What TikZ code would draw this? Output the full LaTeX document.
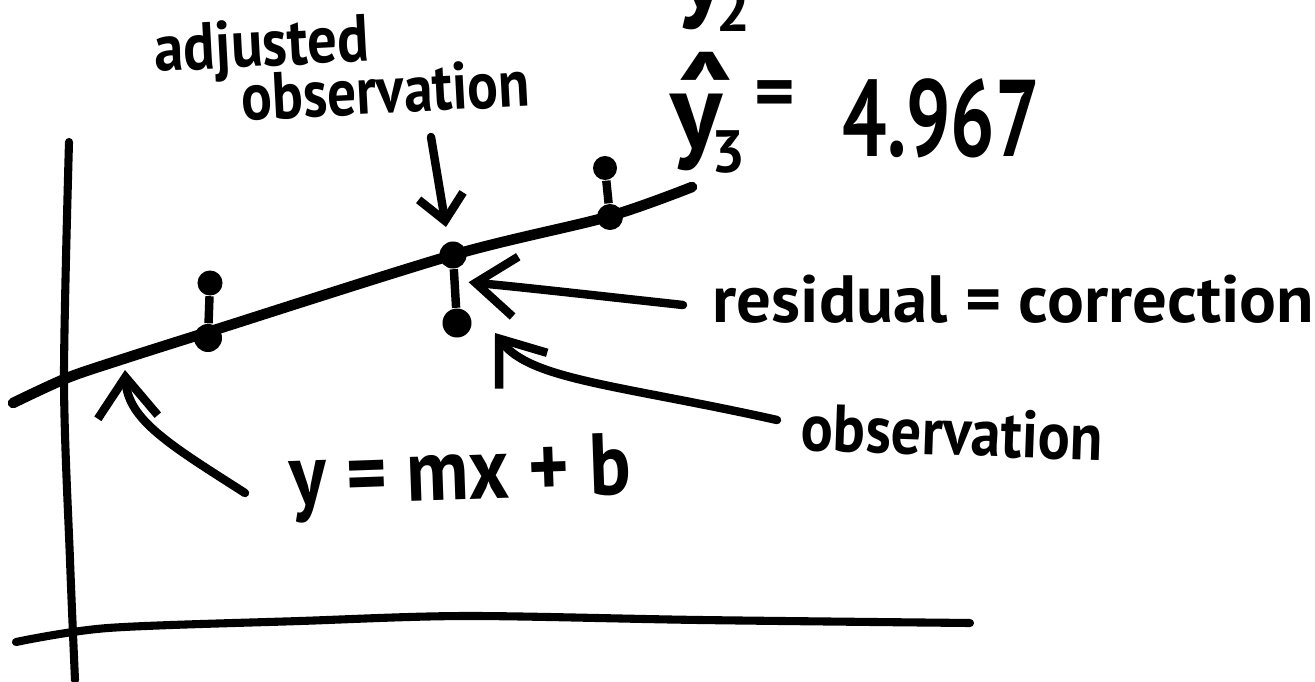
\documentclass[tikz,border=0pt]{standalone}
\usepackage{fontspec}
\newfontfamily\handfont{PT Sans}
\usetikzlibrary{arrows.meta,calc}

\newcommand\yhatsub[1]{\makebox[0pt][l]{\hspace{.01em}\raisebox{-.15em}{\fontsize{44}{44}\selectfont\char"02C6}}y\hspace{-.1em}\raisebox{-.22em}{\fontsize{17}{20}\selectfont #1}}

\tikzset{
  hand/.style={font=\handfont\bfseries\fontsize{19}{22}\selectfont, inner sep=0pt, anchor=base west},
  handbig/.style={hand, font=\handfont\bfseries\fontsize{31}{36}\selectfont},
  axisline/.style={line width=2.3pt, line cap=round},
  fitline/.style={line width=3pt, line cap=round},
  dot/.style={circle, fill, inner sep=0pt, minimum size=#1},
  dotstem/.style={line width=2.4pt},
  arr/.style={line width=2.4pt, line cap=round, -{Straight Barb[length=4mm,width=6mm]}},
  arrsm/.style={arr, -{Straight Barb[length=2.5mm,width=4.5mm]}}
}

\begin{document}
\begin{tikzpicture}[x=0.01cm,y=-0.01cm]
  \useasboundingbox (0,0) rectangle (1315,682);
  \clip (0,0) rectangle (1315,682);
  % axes
  \draw[axisline] plot[smooth] coordinates {(69,142) (64,380) (70,560) (75,680)};
  \draw[axisline] plot[smooth] coordinates {(16,642) (108,628) (300,621) (466,616) (700,620) (970,623)};
  % fitted line
  \draw[fitline] plot[smooth] coordinates {(13,403) (67,378) (120,360) (205,333) (453,255) (607,217) (692,187)};
  % observations and adjusted observations
  \node[dot=2.5mm] (o1) at (210,283) {};
  \node[dot=2.8mm] (a1) at (208,338) {};
  \node[dot=2.7mm] (a2) at (453,255) {};
  \node[dot=2.9mm] (o2) at (457,323) {};
  \node[dot=2.4mm] (o3) at (605,168) {};
  \node[dot=2.6mm] (a3) at (610,217) {};
  \foreach \o/\a in {o1/a1,a2/o2,o3/a3}{\draw[dotstem] (\o) -- (\a);}
  % labels
  \node[hand, rotate=3, xscale=0.88] (adjtxt) at (155,72) {adjusted};
  \node[hand, rotate=3, xscale=0.86] (adjobstxt) at (242,121) {observation};
  \node[hand, xscale=1.03] (restxt) at (712,322) {residual = correction};
  \node[hand, rotate=-2, xscale=0.9] (obstxt) at (800,450) {observation};
  \node[hand, font=\handfont\bfseries\fontsize{25}{30}\selectfont, rotate=2, xscale=0.88] (lintxt) at (290,506) {y = mx + b};
  % estimates
  \node[handbig] (yhat3) at (670,149) {\yhatsub{3}};
  \node[hand, anchor=center, font=\handfont\bfseries\fontsize{22}{24}\selectfont] (eq3) at (775,100) {=};
  \node[handbig, xscale=0.72] (val3) at (842,157) {4.967};
  \node[handbig] (yhat2) at (675,8) {\yhatsub{2}};
  % pointers
  \coordinate (adjtail) at (431,137);
  \draw[arrsm] (adjtail) -- ($(a2)+(-7,-28)$);
  \coordinate (restail) at (683,305);
  \draw[arr] (restail) .. controls (600,296) and (530,288) .. ($(a2)!0.4!(o2)+(14,0)$);
  \coordinate (obstail) at (777,420);
  \draw[arr] (obstail) .. controls (620,385) and (530,380) .. ($(o2)+(38,10)$);
  \coordinate (lintail) at (245,493);
  \coordinate (linpt) at (125,370);
  \draw[arr] (lintail) .. controls (170,445) and (128,420) .. (linpt);
\end{tikzpicture}
\end{document}
